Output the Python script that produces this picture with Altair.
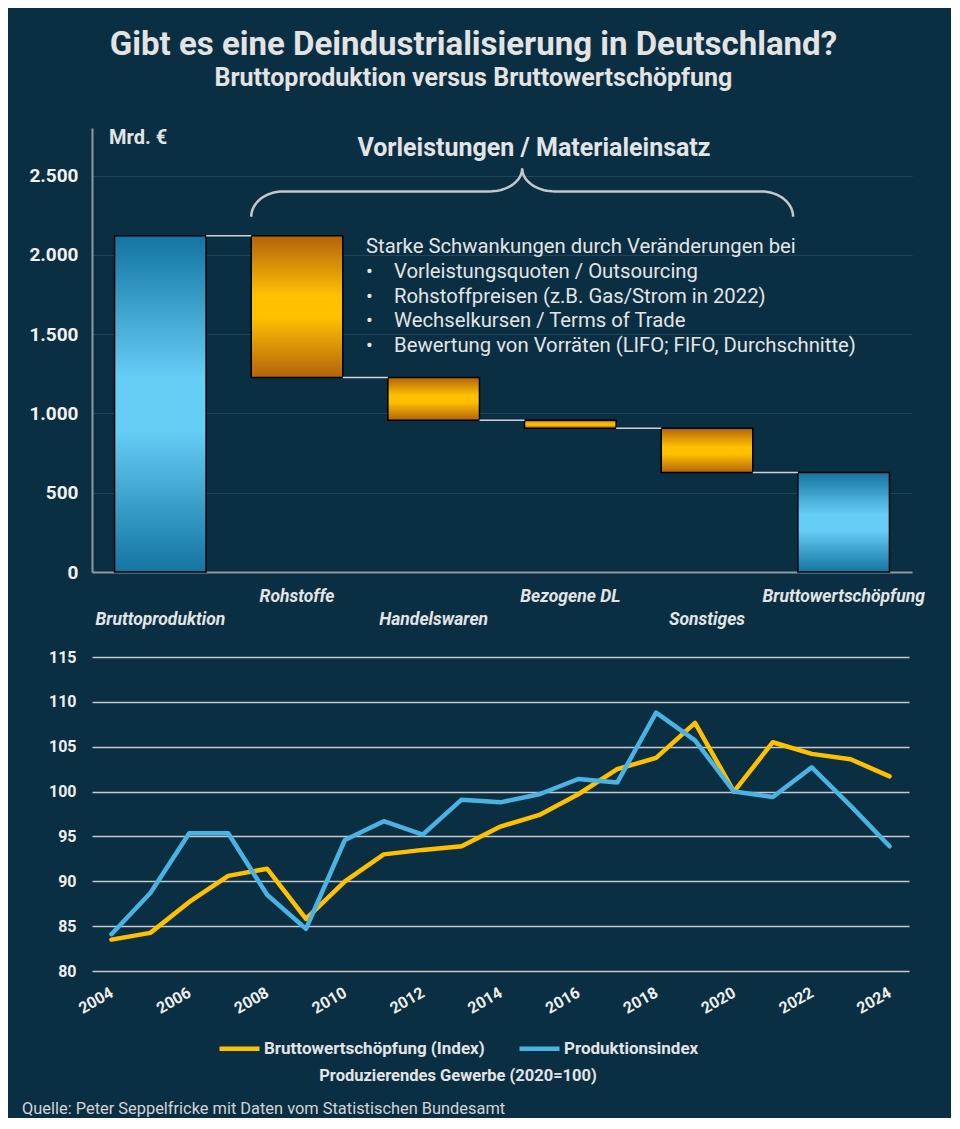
import altair as alt
import numpy as np
import pandas as pd

# ---------------- data ----------------
categories = ["Bruttoproduktion", "Rohstoffe", "Handelswaren", "Bezogene DL",
              "Sonstiges", "Bruttowertschöpfung"]
amounts = [2120, 893, 270, 50, 280, 627]
kinds = ["total", "minus", "minus", "minus", "minus", "total"]
value_ticks = [0, 500, 1000, 1500, 2000, 2500]

years = list(range(2004, 2025))
bws_index = [83.5, 84.25, 87.7, 90.6, 91.4, 85.8, 90.0, 93.0, 93.5, 93.9, 96.1,
             97.4, 99.7, 102.5, 103.75, 107.65, 100.0, 105.5, 104.2, 103.6, 101.7]
prod_index = [84.1, 88.7, 95.35, 95.35, 88.5, 84.7, 94.6, 96.7, 95.2, 99.1, 98.8,
              99.7, 101.4, 101.0, 108.8, 105.7, 100.0, 99.4, 102.7, 98.4, 93.9]
series_names = ["Bruttowertschöpfung (Index)", "Produktionsindex"]
index_ticks = [80, 85, 90, 95, 100, 105, 110, 115]
year_ticks = list(range(2004, 2025, 2))

title_text = "Gibt es eine Deindustrialisierung in Deutschland?"
subtitle_text = "Bruttoproduktion versus Bruttowertschöpfung"
unit_text = "Mrd. €"
brace_text = "Vorleistungen / Materialeinsatz"
note_head = "Starke Schwankungen durch Veränderungen bei"
note_items = ["Vorleistungsquoten / Outsourcing",
              "Rohstoffpreisen (z.B. Gas/Strom in 2022)",
              "Wechselkursen / Terms of Trade",
              "Bewertung von Vorräten (LIFO; FIFO, Durchschnitte)"]
legend_title = "Produzierendes Gewerbe (2020=100)"
source_text = "Quelle: Peter Seppelfricke mit Daten vom Statistischen Bundesamt"

# ---------------- styles ----------------
BG = "#0b2f42"
TXT = "#e2e4e6"
FONT = "Roboto"
HALF = 0.335  # half bar width in band units

# ---------------- waterfall table ----------------
rows = []
level = 0
for i, (c, a, k) in enumerate(zip(categories, amounts, kinds)):
    if k == "total":
        lo, hi = 0, a
        level = a
    else:
        hi = level
        lo = level - a
        level = lo
    rows.append(dict(cat=c, pos=i, lo=lo, hi=hi, kind=k,
                     left=i - HALF, right=i + HALF, row=i % 2,
                     level=level))
wf = pd.DataFrame(rows)
conn = pd.DataFrame([dict(x1=wf.right[i], x2=wf.left[i + 1], level=wf.level[i])
                     for i in range(len(wf) - 1)])

# brace geometry anchored on bar edges and value levels
x0 = wf.left[1]
x1 = wf.left[5] - 0.035
xm = (x0 + x1) / 2
y_end, y_flat, y_peak = 2240, 2400, 2545
rc, ryc = 0.234, y_flat - y_end
rm, rym = 0.24, y_peak - y_flat
pts = []
t = np.linspace(0, np.pi / 2, 20)
pts += list(zip(x0 + rc - rc * np.cos(t), y_end + ryc * np.sin(t)))
pts += list(zip(xm - rm + rm * np.sin(t), y_peak - rym * np.cos(t)))
pts += list(zip(xm + rm - rm * np.cos(t), y_peak - rym * np.sin(t)))
pts += list(zip(x1 - rc + rc * np.sin(t), y_end + ryc * np.cos(t)))
brace = pd.DataFrame(pts, columns=["bx", "by"])
brace["k"] = range(len(brace))

xs = alt.Scale(domain=[-0.5, 5.5], nice=False, zero=False)
ys = alt.Scale(domain=[0, 2800], nice=False, zero=False)


def grad(dark, light):
    return alt.LinearGradient(
        gradient="linear", x1=0, x2=0, y1=0, y2=1,
        stops=[alt.GradientStop(color=dark, offset=0),
               alt.GradientStop(color=light, offset=0.42),
               alt.GradientStop(color=light, offset=0.58),
               alt.GradientStop(color=dark, offset=1)])


x_axis_top = alt.Axis(labels=False, ticks=False, grid=False, domain=True,
                      domainColor="#8e9aa3", domainWidth=2, title=None)
y_axis_top = alt.Axis(values=value_ticks, grid=True, gridColor="#224457",
                      gridWidth=1.2, domain=True, domainColor="#8e9aa3",
                      domainWidth=2, ticks=False, labelPadding=14,
                      labelFontSize=19, labelFontWeight="bold",
                      labelColor="#f2f2f2", labelFont=FONT, title=None,
                      labelExpr="replace(format(datum.value, ','), ',', '.')")

base_wf = alt.Chart(wf)
blue_bars = base_wf.transform_filter("datum.kind == 'total'").mark_bar(
    color=grad("#1474a2", "#66cdf5"), stroke="#000000", strokeWidth=1.5
).encode(
    x=alt.X("left:Q", scale=xs, axis=x_axis_top), x2="right:Q",
    y=alt.Y("lo:Q", scale=ys, axis=y_axis_top), y2="hi:Q")
orange_bars = base_wf.transform_filter("datum.kind == 'minus'").mark_bar(
    color=grad("#b3620c", "#ffc000"), stroke="#000000", strokeWidth=1.5
).encode(
    x=alt.X("left:Q", scale=xs), x2="right:Q",
    y=alt.Y("lo:Q", scale=ys), y2="hi:Q")
connectors = alt.Chart(conn).mark_rule(color="#cfd3d6", strokeWidth=1.5).encode(
    x=alt.X("x1:Q", scale=xs), x2="x2:Q", y=alt.Y("level:Q", scale=ys))
brace_line = alt.Chart(brace).mark_line(color="#c4c8cc", strokeWidth=2.5).encode(
    x=alt.X("bx:Q", scale=xs), y=alt.Y("by:Q", scale=ys), order="k:Q")

labels_up = base_wf.transform_filter("datum.row == 1").mark_text(
    font=FONT, fontSize=17.5, fontWeight="bold", fontStyle="italic",
    color=TXT, baseline="middle").encode(
    x=alt.X("pos:Q", scale=xs), y=alt.value(469), text="cat:N")
labels_down = base_wf.transform_filter("datum.row == 0").mark_text(
    font=FONT, fontSize=17.5, fontWeight="bold", fontStyle="italic",
    color=TXT, baseline="middle").encode(
    x=alt.X("pos:Q", scale=xs), y=alt.value(492), text="cat:N")

unit = alt.Chart(pd.DataFrame({"t": [unit_text]})).mark_text(
    font=FONT, fontSize=20, fontWeight="bold", color=TXT, align="left",
    baseline="middle").encode(x=alt.value(17), y=alt.value(10), text="t:N")
brace_lbl = alt.Chart(pd.DataFrame({"t": [brace_text]})).mark_text(
    font=FONT, fontSize=25, fontWeight="bold", color=TXT, align="center",
    baseline="middle").encode(x=alt.value(442), y=alt.value(20), text="t:N")
note1 = alt.Chart(pd.DataFrame({"t": ["\n".join([note_head] + ["•"] * len(note_items))]})).mark_text(
    font=FONT, fontSize=20.3, color=TXT, align="left", baseline="alphabetic",
    lineBreak="\n", lineHeight=24.8).encode(
    x=alt.value(274), y=alt.value(125), text="t:N")
note2 = alt.Chart(pd.DataFrame({"t": ["\n".join(note_items)]})).mark_text(
    font=FONT, fontSize=20.3, color=TXT, align="left", baseline="alphabetic",
    lineBreak="\n", lineHeight=24.8).encode(
    x=alt.value(302), y=alt.value(149.8), text="t:N")

top = alt.layer(blue_bars, orange_bars, connectors, brace_line, labels_up,
                labels_down, unit, brace_lbl, note1, note2).properties(
    width=820, height=444)

# ---------------- line chart ----------------
long = pd.DataFrame({
    "year": years * 2,
    "value": bws_index + prod_index,
    "series": [series_names[0]] * len(years) + [series_names[1]] * len(years),
})
lines = alt.Chart(long).mark_line(strokeWidth=4.5, strokeCap="round",
                                  strokeJoin="round").encode(
    x=alt.X("year:Q", scale=alt.Scale(domain=[2003.5, 2024.5], nice=False, zero=False),
            axis=alt.Axis(values=year_ticks, format="d", labelAngle=330,
                          labelAlign="right", labelBaseline="middle",
                          labelPadding=20, labelFontSize=16,
                          labelFontWeight="bold", labelColor="#eeeeee",
                          labelFont=FONT, ticks=False, domain=False, grid=False,
                          title=None)),
    y=alt.Y("value:Q", scale=alt.Scale(domain=[80, 115], nice=False, zero=False),
            axis=alt.Axis(values=index_ticks, grid=True, gridColor="#c5c9cc",
                          gridWidth=1.6, domain=False, ticks=False,
                          labelPadding=16, labelFontSize=16,
                          labelFontWeight="bold", labelColor="#eeeeee",
                          labelFont=FONT, title=None)),
    color=alt.Color("series:N",
                    scale=alt.Scale(domain=series_names, range=["#ffc000", "#4bb3e3"]),
                    legend=alt.Legend(title=legend_title, orient="none",
                                      legendX=125, legendY=369,
                                      direction="horizontal",
                                      titleOrient="bottom", titleAnchor="middle",
                                      titleFont=FONT, titleFontSize=16.5,
                                      titleFontWeight="bold", titleColor=TXT,
                                      titlePadding=10, titleLimit=0,
                                      symbolType="stroke", symbolSize=1600,
                                      symbolStrokeWidth=4.5,
                                      labelFont=FONT, labelLimit=0,
                                      labelFontSize=17, labelFontWeight="bold",
                                      labelColor=TXT, labelOffset=2,
                                      columnPadding=25)),
    order="year:Q",
)
source = alt.Chart(pd.DataFrame({"t": [source_text]})).mark_text(
    font=FONT, fontSize=16.4, color="#d0d4d8", align="left",
    baseline="middle").encode(x=alt.value(-70), y=alt.value(452), text="t:N")

bottom = alt.layer(lines, source).properties(width=817, height=314)

chart = alt.vconcat(top, bottom, spacing=20).resolve_legend(
    color="independent"
).properties(
    title=alt.TitleParams(text=title_text, subtitle=subtitle_text,
                          anchor="middle", font=FONT, subtitleFont=FONT,
                          fontSize=33, subtitleFontSize=25, fontWeight="bold",
                          subtitleFontWeight="bold", color="#e3e3e3",
                          subtitleColor="#e3e3e3", subtitlePadding=4.5, offset=37),
    padding={"left": 14, "top": 20, "right": 26, "bottom": 0},
).configure(background=BG).configure_view(strokeWidth=0)

chart.save("out.html", embed_options={"renderer": "svg", "actions": False})
